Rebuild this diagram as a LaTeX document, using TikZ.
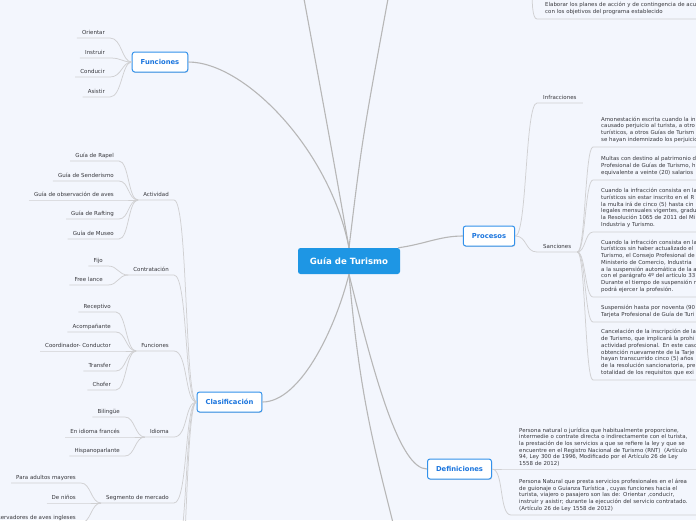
\documentclass[tikz,border=0pt]{standalone}
\usepackage{fontspec}
\setmainfont{DejaVu Sans}
\usetikzlibrary{shadows}
\definecolor{bgcol}{RGB}{243,246,253}
\definecolor{trunkcol}{RGB}{183,183,183}
\definecolor{twigcol}{RGB}{208,208,210}
\definecolor{rootcol}{RGB}{30,150,228}
\definecolor{topicline}{RGB}{50,145,235}
\definecolor{topictext}{RGB}{28,118,222}
\definecolor{leaftext}{RGB}{55,55,60}
\tikzset{
  trunk/.style={draw=trunkcol,line width=1.1pt},
  twig/.style={draw=twigcol,line width=0.75pt},
  root/.style={rectangle,rounded corners=2.5pt,fill=rootcol,text=white,font=\fontsize{8.6}{10}\selectfont\bfseries,minimum height=26pt,minimum width=102pt},
  topic/.style={rectangle,rounded corners=2.5pt,draw=topicline,line width=1pt,fill=white,text=topictext,font=\fontsize{6.8}{8}\selectfont\bfseries,minimum height=20pt,inner xsep=8.5pt,drop shadow={shadow xshift=0.5pt,shadow yshift=-0.9pt,opacity=0.25}},
  leaf/.style={inner xsep=5pt,inner ysep=2.5pt,text height=4pt,text depth=1.2pt,text=leaftext,font=\fontsize{5.5}{6.7}\selectfont},
  para/.style={align=left,inner xsep=8pt,inner ysep=4.5pt,text=leaftext,font=\fontsize{5.45}{6.7}\selectfont},
}
\begin{document}
\begin{tikzpicture}[x=1pt,y=-1pt]
  \fill[bgcol] (0,0) rectangle (696,520);
  \useasboundingbox (0,0) rectangle (696,520);
  \clip (0,0) rectangle (696,520);

  \node[root] (guia) at (349,261) {Guía de Turismo};
  \node[topic] (fun) at (160,62) {Funciones};
  \node[topic] (clas) at (229.5,402) {Clasificación};
  \node[topic] (proc) at (489,236) {Procesos};
  \node[topic] (defi) at (459.5,469) {Definiciones};

  \coordinate (upA) at (302,-12);
  \coordinate (upB) at (390,-12);
  \coordinate (downA) at (396,535);
  \coordinate (clasD1) at (174,560);
  \coordinate (clasD2) at (174,620);
  \coordinate (elabUp) at (532,-15);

  \node[leaf,anchor=south east] (fo1) at (110,38) {Orientar};
  \node[leaf,anchor=south east] (fo2) at (110,58) {Instruir};
  \node[leaf,anchor=south east] (fo3) at (110,77) {Conducir};
  \node[leaf,anchor=south east] (fo4) at (110,97) {Asistir};

  \node[leaf,anchor=south east] (act) at (174,200) {Actividad};
  \node[leaf,anchor=south east] (con) at (174,275) {Contratación};
  \node[leaf,anchor=south east] (fn2) at (174,351) {Funciones};
  \node[leaf,anchor=south east] (idi) at (174,437) {Idioma};
  \node[leaf,anchor=south east] (seg) at (174,503) {Segmento de mercado};

  \node[leaf,anchor=south east] (ac1) at (119,161) {Guía de Rapel};
  \node[leaf,anchor=south east] (ac2) at (119,181) {Guía de Senderismo};
  \node[leaf,anchor=south east] (ac3) at (119,200) {Guía de observación de aves};
  \node[leaf,anchor=south east] (ac4) at (119,219) {Guía de Rafting};
  \node[leaf,anchor=south east] (ac5) at (119,239) {Guía de Museo};

  \node[leaf,anchor=south east] (co1) at (108,266) {Fijo};
  \node[leaf,anchor=south east] (co2) at (108,285) {Free lance};

  \node[leaf,anchor=south east] (fu1) at (116,312) {Receptivo};
  \node[leaf,anchor=south east] (fu2) at (116,332) {Acompañante};
  \node[leaf,anchor=south east] (fu3) at (116,351) {Coordinador- Conductor};
  \node[leaf,anchor=south east] (fu4) at (116,371) {Transfer};
  \node[leaf,anchor=south east] (fu5) at (116,390) {Chofer};

  \node[leaf,anchor=south east] (id1) at (125,417) {Bilingüe};
  \node[leaf,anchor=south east] (id2) at (125,437) {En idioma francés};
  \node[leaf,anchor=south east] (id3) at (125,456) {Hispanoparlante};

  \node[leaf,anchor=south east] (se1) at (81,483) {Para adultos mayores};
  \node[leaf,anchor=south east] (se2) at (81,503) {De niños};
  \node[leaf,anchor=south east] (se3) at (81,523) {Observadores de aves ingleses};

  \node[leaf,anchor=south west,inner xsep=6pt] (inf) at (537,103) {Infracciones};
  \node[leaf,anchor=south west,inner xsep=6pt] (san) at (537,252) {Sanciones};

  \node[para,anchor=south west,text width=130pt] (s1) at (593,147) {Amonestación escrita cuando la in\\causado perjuicio al turista, a otro\\turísticos, a otros Guías de Turism\\se hayan indemnizado los perjuicio};
  \node[para,anchor=south west,text width=130pt] (s2) at (593,180) {Multas con destino al patrimonio d\\Profesional de Guías de Turismo, h\\equivalente a veinte (20) salarios};
  \node[para,anchor=south west,text width=130pt] (s3) at (593,232) {Cuando la infracción consista en la\\turísticos sin estar inscrito en el R\\la multa irá de cinco (5) hasta cin\\legales mensuales vigentes, gradu\\la Resolución 1065 de 2011 del Mi\\Industria y Turismo.};
  \node[para,anchor=south west,text width=130pt] (s4) at (593,297) {Cuando la infracción consista en la\\turísticos sin haber actualizado el\\Turismo, el Consejo Profesional de\\Ministerio de Comercio, Industria\\a la suspensión automática de la a\\con el parágrafo 4º del artículo 33\\Durante el tiempo de suspensión n\\podrá ejercer la profesión.};
  \node[para,anchor=south west,text width=130pt] (s5) at (593,322) {Suspensión hasta por noventa (90\\Tarjeta Profesional de Guía de Turi};
  \node[para,anchor=south west,text width=130pt] (s6) at (593,380) {Cancelación de la inscripción de la\\de Turismo, que implicará la prohi\\actividad profesional. En este caso\\obtención nuevamente de la Tarje\\hayan transcurrido cinco (5) años\\de la resolución sancionatoria, pre\\totalidad de los requisitos que exi};

  \node[para,anchor=south west,text width=170pt] (elab) at (537,19) {Elaborar los planes de acción y de contingencia de acu\\con los objetivos del programa establecido};

  \node[para,anchor=south west,text width=180pt,inner ysep=2.5pt] (da) at (511,469) {Persona natural o jurídica que habitualmente proporcione,\\intermedie o contrate directa o indirectamente con el turista,\\la prestación de los servicios a que se refiere la ley y que se\\encuentre en el Registro Nacional de Turismo (RNT)\ \ (Artículo\\94, Ley 300 de 1996, Modificado por el Artículo 26 de Ley\\1558 de 2012)};
  \node[para,anchor=south west,text width=180pt,inner ysep=3.5pt] (db) at (511,515) {Persona Natural que presta servicios profesionales en el área\\de guionaje o Guianza Turística , cuyas funciones hacia el\\turista, viajero o pasajero son las de: Orientar ,conducir,\\instruir y asistir; durante la ejecución del servicio contratado.\\(Artículo 26 de Ley 1558 de 2012)};

  \draw[trunk] (fun.east) .. controls (245,62) and (330,150) .. (guia.north);
  \draw[trunk] (guia.north) .. controls (330,140) .. (upA);
  \draw[trunk] (guia.north) .. controls (362,140) .. (upB);
  \draw[trunk] (guia.15) .. controls (425,244) and (440,236) .. (proc.west);
  \draw[trunk] (guia.south) .. controls (335,330) and (300,402) .. (clas.east);
  \draw[trunk] (guia.south) .. controls (360,400) and (375,450) .. (downA);
  \draw[trunk] (guia.south) .. controls (375,380) and (400,469) .. (defi.west);

  \draw[twig] (fo1.south west) -- (fo1.south east) .. controls +(12,0) and +(-10,0) .. (fun.west);
  \draw[twig] (fo2.south west) -- (fo2.south east) .. controls +(12,0) and +(-10,0) .. (fun.west);
  \draw[twig] (fo3.south west) -- (fo3.south east) .. controls +(12,0) and +(-10,0) .. (fun.west);
  \draw[twig] (fo4.south west) -- (fo4.south east) .. controls +(12,0) and +(-10,0) .. (fun.west);

  \draw[twig] (act.south west) -- (act.south east) .. controls +(14,0) and +(-12,0) .. (clas.west);
  \draw[twig] (con.south west) -- (con.south east) .. controls +(14,0) and +(-12,0) .. (clas.west);
  \draw[twig] (fn2.south west) -- (fn2.south east) .. controls +(14,0) and +(-12,0) .. (clas.west);
  \draw[twig] (idi.south west) -- (idi.south east) .. controls +(14,0) and +(-12,0) .. (clas.west);
  \draw[twig] (seg.south west) -- (seg.south east) .. controls +(14,0) and +(-12,0) .. (clas.west);
  \draw[twig] (clasD1) .. controls +(14,0) and +(-12,0) .. (clas.west);
  \draw[twig] (clasD2) .. controls +(14,0) and +(-12,0) .. (clas.west);

  \draw[twig] (ac1.south west) -- (ac1.south east) .. controls +(10,0) and +(-10,0) .. (act.south west);
  \draw[twig] (ac2.south west) -- (ac2.south east) .. controls +(10,0) and +(-10,0) .. (act.south west);
  \draw[twig] (ac3.south west) -- (ac3.south east) -- (act.south west);
  \draw[twig] (ac4.south west) -- (ac4.south east) .. controls +(10,0) and +(-10,0) .. (act.south west);
  \draw[twig] (ac5.south west) -- (ac5.south east) .. controls +(10,0) and +(-10,0) .. (act.south west);

  \draw[twig] (co1.south west) -- (co1.south east) .. controls +(10,0) and +(-10,0) .. (con.south west);
  \draw[twig] (co2.south west) -- (co2.south east) .. controls +(10,0) and +(-10,0) .. (con.south west);

  \draw[twig] (fu1.south west) -- (fu1.south east) .. controls +(10,0) and +(-10,0) .. (fn2.south west);
  \draw[twig] (fu2.south west) -- (fu2.south east) .. controls +(10,0) and +(-10,0) .. (fn2.south west);
  \draw[twig] (fu3.south west) -- (fu3.south east) -- (fn2.south west);
  \draw[twig] (fu4.south west) -- (fu4.south east) .. controls +(10,0) and +(-10,0) .. (fn2.south west);
  \draw[twig] (fu5.south west) -- (fu5.south east) .. controls +(10,0) and +(-10,0) .. (fn2.south west);

  \draw[twig] (id1.south west) -- (id1.south east) .. controls +(10,0) and +(-10,0) .. (idi.south west);
  \draw[twig] (id2.south west) -- (id2.south east) -- (idi.south west);
  \draw[twig] (id3.south west) -- (id3.south east) .. controls +(10,0) and +(-10,0) .. (idi.south west);

  \draw[twig] (se1.south west) -- (se1.south east) .. controls +(10,0) and +(-10,0) .. (seg.south west);
  \draw[twig] (se2.south west) -- (se2.south east) -- (seg.south west);
  \draw[twig] (se3.south west) -- (se3.south east) .. controls +(10,0) and +(-10,0) .. (seg.south west);

  \draw[twig] (inf.south east) -- (inf.south west) .. controls +(-12,0) and +(12,0) .. (proc.east);
  \draw[twig] (san.south east) -- (san.south west) .. controls +(-12,0) and +(12,0) .. (proc.east);

  \draw[twig] (s1.south east) -- (s1.south west) .. controls +(-8,0) and +(8,0) .. (san.south east);
  \draw[twig] (s2.south east) -- (s2.south west) .. controls +(-8,0) and +(8,0) .. (san.south east);
  \draw[twig] (s3.south east) -- (s3.south west) .. controls +(-8,0) and +(8,0) .. (san.south east);
  \draw[twig] (s4.south east) -- (s4.south west) .. controls +(-8,0) and +(8,0) .. (san.south east);
  \draw[twig] (s5.south east) -- (s5.south west) .. controls +(-8,0) and +(8,0) .. (san.south east);
  \draw[twig] (s6.south east) -- (s6.south west) .. controls +(-8,0) and +(8,0) .. (san.south east);

  \draw[twig] (elab.south east) -- (elab.south west) .. controls +(-5,0) and +(0,15) .. (elabUp);

  \draw[twig] (da.south east) -- (da.south west) -- (defi.east);
  \draw[twig] (db.south east) -- (db.south west) .. controls +(-12,0) and +(12,0) .. (defi.east);
\end{tikzpicture}
\end{document}
